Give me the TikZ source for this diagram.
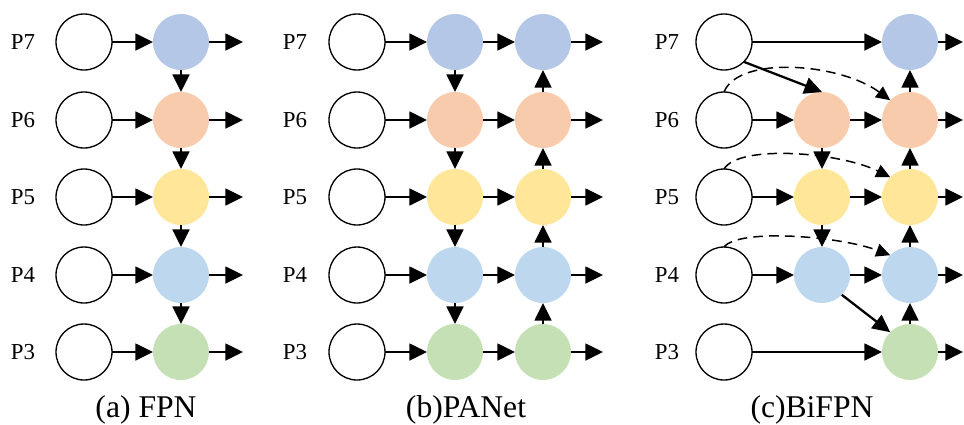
\documentclass[tikz,border=0pt]{standalone}
\usepackage{fontspec}
\setmainfont{Liberation Serif}
\usetikzlibrary{arrows.meta}

\definecolor{cP7}{HTML}{B4C7E7}
\definecolor{cP6}{HTML}{F8CBAD}
\definecolor{cP5}{HTML}{FFE699}
\definecolor{cP4}{HTML}{BDD7EE}
\definecolor{cP3}{HTML}{C5E0B4}

\begin{document}
\begin{tikzpicture}[x=0.02cm, y=-0.02cm]
\tikzset{ >={Triangle[length=10pt,width=9.5pt]}, inner sep=0pt, outer sep=0pt,
  inp/.style={draw, circle, line width=0.75pt, minimum size=1.12cm},
  feat/.style={circle, minimum size=1.12cm},
  conn/.style={->, line width=1.3pt},
  skip/.style={-{Triangle[length=8pt,width=7.5pt]}, line width=0.85pt, dash pattern=on 5.5pt off 3.5pt},
  lvl/.style={font=\fontsize{13}{15}\selectfont},
  capt/.style={font=\fontsize{18}{21}\selectfont, anchor=base} }
\useasboundingbox (0,0) rectangle (964,424);
%\draw [lightgray, dashed](0,0) grid[step=50] (964,424);

% (a) FPN
\foreach \l/\y/\c in {7/42/cP7, 6/120/cP6, 5/197/cP5, 4/275/cP4, 3/352/cP3} {
  \node [lvl] (la\l) at (23,\y) {P\l};
  \node [inp] (ia\l) at (84,\y) {};
  \node [feat, fill=\c] (ma\l) at (181,\y) {};
  \coordinate (ea\l) at (243,\y);
  \draw [conn] (ia\l) -- (ma\l);
  \draw [conn] (ma\l) -- (ea\l);
}
\foreach \a/\b in {7/6, 6/5, 5/4, 4/3}
  \draw [conn] (ma\a) -- (ma\b);

% (b) PANet
\foreach \l/\y/\c in {7/42/cP7, 6/120/cP6, 5/197/cP5, 4/275/cP4, 3/352/cP3} {
  \node [lvl] (lb\l) at (295,\y) {P\l};
  \node [inp] (ib\l) at (357,\y) {};
  \node [feat, fill=\c] (mb\l) at (455,\y) {};
  \node [feat, fill=\c] (ob\l) at (543,\y) {};
  \coordinate (eb\l) at (603,\y);
  \draw [conn] (ib\l) -- (mb\l);
  \draw [conn] (mb\l) -- (ob\l);
  \draw [conn] (ob\l) -- (eb\l);
}
\foreach \a/\b in {7/6, 6/5, 5/4, 4/3} {
  \draw [conn] (mb\a) -- (mb\b);
  \draw [conn] (ob\b) -- (ob\a);
}

% (c) BiFPN
\foreach \l/\y/\c in {7/42/cP7, 6/120/cP6, 5/197/cP5, 4/275/cP4, 3/352/cP3} {
  \node [lvl] (lc\l) at (667,\y) {P\l};
  \node [inp] (ic\l) at (724,\y) {};
  \node [feat, fill=\c] (oc\l) at (910,\y) {};
  \coordinate (ec\l) at (963,\y);
  \draw [conn] (oc\l) -- (ec\l);
}
\foreach \l/\y/\c in {6/120/cP6, 5/197/cP5, 4/275/cP4} {
  \node [feat, fill=\c] (mc\l) at (822,\y) {};
  \draw [conn] (ic\l) -- (mc\l);
  \draw [conn] (mc\l) -- (oc\l);
}
\draw [conn] (ic7) -- (oc7);
\draw [conn] (ic3) -- (oc3);
\draw [conn] (mc6) -- (mc5);
\draw [conn] (mc5) -- (mc4);
\foreach \a/\b in {7/6, 6/5, 5/4, 4/3}
  \draw [conn] (oc\b) -- (oc\a);
\draw [conn] (ic7.south east) -- (mc6.north);
\draw [conn] (mc4.south east) -- (oc3.north west);
\foreach \l/\h in {6/37, 5/25, 4/19}
  \draw [skip] (ic\l.north) .. controls +(15,-\h) and +(-50,-\h) .. (oc\l.north west);

\node [capt] (capa) at (146,417) {(a) FPN};
\node [capt] (capb) at (466,417) {(b)PANet};
\node [capt] (capc) at (812,417) {(c)BiFPN};

\end{tikzpicture}
\end{document}
